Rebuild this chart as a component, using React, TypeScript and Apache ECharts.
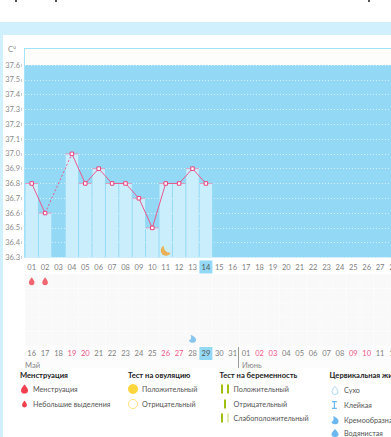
import React, { useEffect, useRef } from "react";
import * as echarts from "echarts";

const topDays = ["01","02","03","04","05","06","07","08","09","10","11","12","13","14","15","16","17","18","19","20","21","22","23","24","25","26","27","28","29","30","31"];
const bottomDays = ["16","17","18","19","20","21","22","23","24","25","26","27","28","29","30","31","01","02","03","04","05","06","07","08","09","10","11","12","13","14","15"];
const redDays = ["19","20","26","27","02","03","09","10"];
const temperature: (number | null)[] = [36.8,36.6,null,37.0,36.8,36.9,36.8,36.8,36.7,36.5,36.8,36.8,36.9,36.8];
const gapBridge: (number | null)[] = [null,36.6,null,37.0];
const symptomRows = ["a","b","c","d","e"];
const periodDays = ["01","02"];
const moonDay = "11";
const creamyDay = "13";

const FONT = "Lato, 'Noto Sans', sans-serif";
const DROP = "M5 0C5 0 0 6 0 9.5A5 5 0 0 0 10 9.5C10 6 5 0 5 0Z";
const MOON = "M4 0A6 6 0 1 0 12 8A7.5 7.5 0 0 1 4 0Z";
const CREAM = "M2 0C7 2 10 5 10 8A5 5 0 0 1 0 9C3 9 4 4 2 0Z";
const CLAMP = "M0 0H8V1.5H5V8.5H8V10H0V8.5H3V1.5H0Z";

echarts.graphic.registerShape("dropIcon", echarts.graphic.extendPath(DROP, {}));
echarts.graphic.registerShape("creamIcon", echarts.graphic.extendPath(CREAM, {}));
echarts.graphic.registerShape("clampIcon", echarts.graphic.extendPath(CLAMP, {}));

const legendText = (x: number, y: number, text: string, bold = false) => ({
  type: "text", x, y,
  style: { text, fill: bold ? "#222" : "#555", font: `${bold ? "700 7.6" : "7.2"}px ${FONT}`, textVerticalAlign: "middle" },
});
const icon = (type: string, x: number, y: number, w: number, h: number, fill: string, stroke?: string) => ({
  type, x: x - w / 2, y: y - h / 2, scaleX: w / 10, scaleY: h / (type === "dropIcon" ? 14.5 : type === "creamIcon" ? 13 : 10),
  style: { fill, stroke, lineWidth: stroke ? 1.2 : 0 },
});
const pill = (x: number, y: number, fill: string) => ({ type: "rect", shape: { x, y: y - 4.5, width: 2, height: 9 }, style: { fill } });

export default function App() {
  const ref = useRef<HTMLDivElement>(null);
  useEffect(() => {
    const chart = echarts.init(ref.current!, null, { renderer: "svg" });
    const rich = {
      n: { color: "#808080", fontSize: 7.5, fontFamily: FONT, width: 13, height: 13, align: "center" },
      r: { color: "#f0558a", fontSize: 7.5, fontFamily: FONT, width: 13, height: 13, align: "center" },
      sel: { color: "#555", fontSize: 7.5, fontFamily: FONT, width: 13, height: 13, align: "center", backgroundColor: "#93d9f5" },
    };
    chart.setOption({
      animation: false,
      textStyle: { fontFamily: FONT },
      grid: [
        { left: 25, top: 65, width: 415.4, height: 192.5, show: true, backgroundColor: "#93d9f5", borderWidth: 0, outerBoundsMode: "none" },
        { left: 25, top: 274, width: 415.4, height: 72, outerBoundsMode: "none" },
      ],
      xAxis: [
        { type: "category", gridIndex: 0, data: topDays, axisLine: { show: false }, axisTick: { show: false },
          axisLabel: { interval: 0, margin: 3, rich, hideOverlap: false,
            formatter: (v: string) => (v === "14" ? `{sel|${v}}` : `{n|${v}}`) } },
        { type: "category", gridIndex: 1, data: bottomDays, axisLine: { show: false }, axisTick: { show: false },
          axisLabel: { interval: 0, margin: 1, rich, hideOverlap: false,
            formatter: (v: string) => (v === "29" ? `{sel|${v}}` : redDays.includes(v) ? `{r|${v}}` : `{n|${v}}`) } },
      ],
      yAxis: [
        { type: "value", gridIndex: 0, min: 36.3, max: 37.6, interval: 0.1, offset: 3,
          axisLine: { show: false },
          axisTick: { show: true, length: 1, lineStyle: { color: "#d0d0d0", width: 3 } },
          axisLabel: { color: "#8a8a8a", fontSize: 7.5, fontFamily: FONT, margin: 2, formatter: (v: number) => v.toFixed(1) },
          splitLine: { show: true, lineStyle: { color: "rgba(255,255,255,0.6)", type: [1, 2], width: 1 } } },
        { type: "category", gridIndex: 1, inverse: true, data: symptomRows, show: false },
      ],
      series: [
        { type: "bar", xAxisIndex: 0, yAxisIndex: 0, data: temperature, barWidth: 12.4, itemStyle: { color: "#cbeefd" }, silent: true, z: 2 },
        { type: "scatter", xAxisIndex: 0, yAxisIndex: 0, data: temperature, symbol: "rect", symbolSize: [13, 1], itemStyle: { color: "#e88ab0" }, z: 3 },
        { type: "line", xAxisIndex: 0, yAxisIndex: 0, data: gapBridge, connectNulls: true, showSymbol: false,
          lineStyle: { color: "#e85a8e", width: 1, type: [2, 2] }, z: 4 },
        { type: "line", xAxisIndex: 0, yAxisIndex: 0, data: temperature, connectNulls: false, symbol: "rect", symbolSize: 3.5, showAllSymbol: true,
          lineStyle: { color: "#e85a8e", width: 1 }, itemStyle: { color: "#fff", borderColor: "#e8417c", borderWidth: 1 }, z: 5 },
        { type: "scatter", xAxisIndex: 0, yAxisIndex: 0, data: [[moonDay, 36.345]], symbol: `path://${MOON}`, symbolSize: [10, 10], itemStyle: { color: "#f0a02c" }, z: 6 },
        { type: "scatter", xAxisIndex: 1, yAxisIndex: 1,
          data: bottomDays.flatMap((d) => symptomRows.map((r) => [d, r])),
          symbol: "rect", symbolSize: [12.4, 13.4],
          itemStyle: { color: "#f7f7f7" }, silent: true, z: 1 },
        { type: "scatter", xAxisIndex: 1, yAxisIndex: 1, data: periodDays.map((_, i) => [bottomDays[i], symptomRows[0]]),
          symbol: `path://${DROP}`, symbolSize: [5.5, 8], itemStyle: { color: "#f1404e" }, z: 6 },
        { type: "scatter", xAxisIndex: 1, yAxisIndex: 1, data: [[bottomDays[topDays.indexOf(creamyDay)], symptomRows[4]]],
          symbol: `path://${CREAM}`, symbolSize: [7, 8], itemStyle: { color: "#6cb8ee" }, z: 6 },
      ],
      graphic: [
        { type: "rect", shape: { x: 25, y: 48, width: 366, height: 17 }, style: { fill: "#fdfefb" } },
        { type: "line", shape: { x1: 25, y1: 48.5, x2: 391, y2: 48.5 }, style: { stroke: "#a3e3fa", lineWidth: 1 } },
        { type: "line", shape: { x1: 24.5, y1: 48, x2: 24.5, y2: 258 }, style: { stroke: "#a3e3fa", lineWidth: 1 } },
        { type: "text", x: 8, y: 49, style: { text: "C°", fill: "#888", font: `7.5px ${FONT}`, textVerticalAlign: "middle" } },
        { type: "line", shape: { x1: 238.5, y1: 347, x2: 238.5, y2: 368 }, style: { stroke: "#999", lineWidth: 1 } },
        { type: "text", x: 25, y: 365, style: { text: "Май", fill: "#888", font: `7.6px ${FONT}`, textVerticalAlign: "middle" } },
        { type: "text", x: 242, y: 365, style: { text: "Июнь", fill: "#888", font: `7.6px ${FONT}`, textVerticalAlign: "middle" } },
        { type: "rect", shape: { x: 15, y: 0, width: 2, height: 2 }, style: { fill: "#555" } },
        { type: "rect", shape: { x: 55, y: 0, width: 2, height: 2 }, style: { fill: "#555" } },
        { type: "rect", shape: { x: 368, y: 0, width: 2, height: 2 }, style: { fill: "#555" } },

        legendText(20, 375, "Менструация", true),
        icon("dropIcon", 24.5, 389, 7, 9, "#f1404e"),
        legendText(33, 389, "Менструация"),
        icon("dropIcon", 24.5, 404, 5, 7, "#f1404e"),
        legendText(33, 404, "Небольшие выделения"),

        legendText(128, 375, "Тест на овуляцию", true),
        { type: "circle", shape: { cx: 133, cy: 389, r: 5 }, style: { fill: "#ffd53e" } },
        legendText(142, 389, "Положительный"),
        { type: "circle", shape: { cx: 133, cy: 404, r: 4.5 }, style: { fill: "#fff", stroke: "#ffe27a", lineWidth: 1 } },
        legendText(142, 404, "Отрицательный"),

        legendText(219.5, 375, "Тест на беременность", true),
        pill(221, 389, "#9dbf0f"), pill(227, 389, "#9dbf0f"),
        legendText(233.5, 389, "Положительный"),
        pill(224, 404, "#9dbf0f"),
        legendText(233.5, 404, "Отрицательный"),
        pill(221, 418, "#9dbf0f"), pill(227, 418, "#dfe9b0"),
        legendText(233.5, 418, "Слабоположительный"),

        legendText(329.5, 375, "Цервикальная жидкость", true),
        icon("dropIcon", 335, 390.5, 6, 8, "#fff", "#8cc8f2"),
        legendText(344, 390.5, "Сухо"),
        icon("clampIcon", 335, 405, 6, 8, "#6cb8ee"),
        legendText(344, 405, "Клейкая"),
        icon("creamIcon", 335, 420, 7, 8, "#6cb8ee"),
        legendText(344, 420, "Кремообразная"),
        icon("dropIcon", 335, 433, 7, 8, "#6cb8ee"),
        legendText(344, 433, "Водянистая"),
      ],
    });
    return () => chart.dispose();
  }, []);
  return (
    <div style={{ position: "fixed", left: 0, top: 0, width: 391, height: 437, overflow: "hidden", background: "#fff" }}>
      <div style={{ position: "absolute", left: 0, top: 22, width: 391, height: 13, background: "#cff0fc" }} />
      <div style={{ position: "absolute", left: 0, top: 22, width: 2.5, height: 415, background: "#cff0fc" }} />
      <div style={{ position: "absolute", left: 25, top: 274, width: 366, height: 94, background: "#fcfcfc" }} />
      <div ref={ref} style={{ position: "absolute", left: 0, top: 0, width: 391, height: 437 }} />
    </div>
  );
}
